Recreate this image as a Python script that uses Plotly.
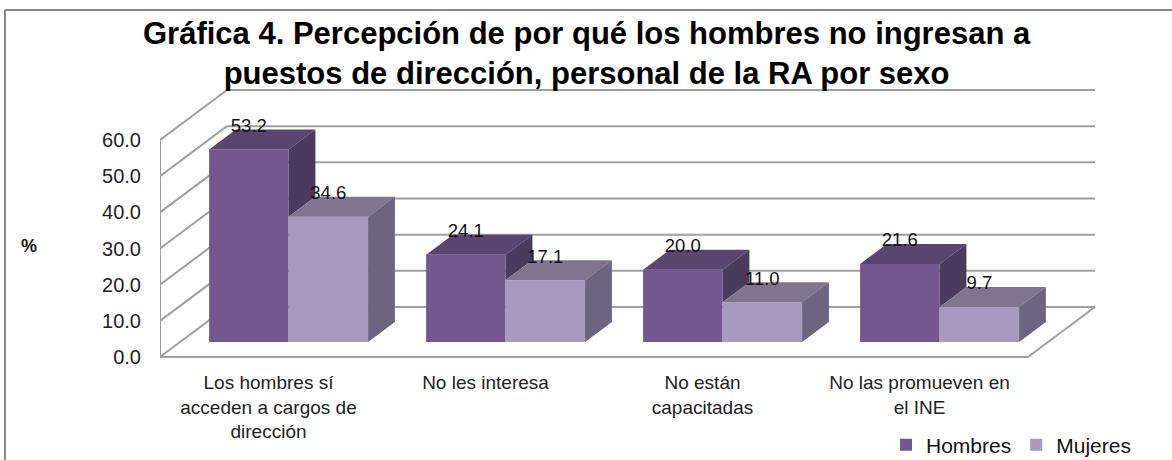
import plotly.graph_objects as go

# ---------------- data ----------------
categories = [
    "Los hombres sí<br>acceden a cargos de<br>dirección",
    "No les interesa",
    "No están<br>capacitadas",
    "No las promueven en<br>el INE",
]
hombres = [53.2, 24.1, 20.0, 21.6]
mujeres = [34.6, 17.1, 11.0, 9.7]
series_names = ["Hombres", "Mujeres"]
y_ticks = [0, 10, 20, 30, 40, 50, 60]
y_tick_text = ["0.0", "10.0", "20.0", "30.0", "40.0", "50.0", "60.0"]
title_text = ("<b>Gráfica 4. Percepción de por qué los hombres no ingresan a</b><br>"
              "<b>puestos de dirección, personal de la RA por sexo</b>")

# ---------------- styling / geometry ----------------
W, H = 1172, 460
ML, MR, MT, MB = 160, 72, 60, 95
PX_X = 217.0            # px per category (front plane)
PX_Y = 217.0 / 60.0     # px per percent point
PW, PH = W - ML - MR, H - MT - MB
X0 = -0.5
X1 = X0 + PW / PX_X
Y0 = -(H - MB - 357) / PX_Y
Y1 = (357 - MT) / PX_Y
XEND = len(categories) - 0.5

DEPTH_X = 67.0 / PX_X   # full floor depth offset (x units)
DEPTH_Y = 50.0 / PX_Y   # full floor depth offset (y units)
FRONT, BACK = 0.3, 0.7  # bar depth placement
BAR_W = 79.5 / PX_X
dX = (BACK - FRONT) * DEPTH_X
dY = (BACK - FRONT) * DEPTH_Y
BASE = FRONT * DEPTH_Y

colors = {
    "Hombres": dict(front="#72588E", top="#5A4570", side="#4A3A5E"),
    "Mujeres": dict(front="#A899BE", top="#807590", side="#6C6480"),
}
GRID = "#A0A0A0"
FONT = "Liberation Sans, Arial, sans-serif"


def px_x(p):
    return (p - ML) / PW


def px_y(p):
    return (H - MB - p) / PH


fig = go.Figure()

# ---------------- walls / gridlines (below traces) ----------------
shapes = []
line = dict(color=GRID, width=2)
for v in y_ticks:
    shapes.append(dict(type="line", xref="x", yref="y", layer="below",
                       x0=X0 + DEPTH_X, y0=v + DEPTH_Y, x1=XEND + DEPTH_X, y1=v + DEPTH_Y, line=line))
    shapes.append(dict(type="line", xref="x", yref="y", layer="below",
                       x0=X0, y0=v, x1=X0 + DEPTH_X, y1=v + DEPTH_Y, line=line))
shapes.append(dict(type="line", xref="x", yref="y", layer="below",
                   x0=X0, y0=y_ticks[0], x1=X0, y1=y_ticks[-1], line=line))
shapes.append(dict(type="line", xref="x", yref="y", layer="below",
                   x0=X0, y0=0, x1=XEND, y1=0, line=line))
shapes.append(dict(type="line", xref="x", yref="y", layer="below",
                   x0=XEND, y0=0, x1=XEND + DEPTH_X, y1=DEPTH_Y, line=line))
# outer chart border (left & top)
shapes.append(dict(type="line", xref="paper", yref="paper", x0=px_x(5), y0=px_y(10),
                   x1=px_x(5), y1=px_y(H + 20), line=dict(color="#8C8C8C", width=2)))
shapes.append(dict(type="line", xref="paper", yref="paper", x0=px_x(5), y0=px_y(10),
                   x1=px_x(W + 20), y1=px_y(10), line=dict(color="#8C8C8C", width=2)))

# ---------------- bars ----------------
series = {"Hombres": hombres, "Mujeres": mujeres}
centers = {}
for s_idx, name in enumerate(series_names):
    xs = [i + FRONT * DEPTH_X + (s_idx - 0.5) * BAR_W for i in range(len(categories))]
    centers[name] = xs
    fig.add_trace(go.Bar(
        x=xs, y=series[name], base=[BASE] * len(xs), width=BAR_W,
        name=name, marker=dict(color=colors[name]["front"], line=dict(width=0)),
        hoverinfo="skip",
    ))

# top and side faces
for name in series_names:
    vals = series[name]
    tx, ty, sx, sy = [], [], [], []
    for i, v in enumerate(vals):
        xl = centers[name][i] - BAR_W / 2
        xr = centers[name][i] + BAR_W / 2
        t = BASE + v
        tx += [xl, xr, xr + dX, xl + dX, xl, None]
        ty += [t, t, t + dY, t + dY, t, None]
        low = BASE
        if name == "Hombres":
            other = mujeres[i]
            if other >= v:
                continue
            low = BASE + other
        sx += [xr, xr, xr + dX, xr + dX, xr, None]
        sy += [low, t, t + dY, low + dY, low, None]
    fig.add_trace(go.Scatter(x=tx, y=ty, mode="lines", fill="toself",
                             fillcolor=colors[name]["top"], line=dict(width=0),
                             showlegend=False, hoverinfo="skip"))
    fig.add_trace(go.Scatter(x=sx, y=sy, mode="lines", fill="toself",
                             fillcolor=colors[name]["side"], line=dict(width=0),
                             showlegend=False, hoverinfo="skip"))

# value labels
lx, ly, lt = [], [], []
for name in series_names:
    for i, v in enumerate(series[name]):
        lx.append(centers[name][i])
        ly.append(BASE + v + dY + 0.6)
        lt.append(f"{v:.1f}")
fig.add_trace(go.Scatter(x=lx, y=ly, text=lt, mode="text", textposition="middle center",
                         textfont=dict(family=FONT, size=18.5, color="#111111"),
                         showlegend=False, hoverinfo="skip", cliponaxis=False))

# title and axis title
fig.add_annotation(text=title_text, xref="paper", yref="paper",
                   x=px_x(587), y=px_y(53), xanchor="center", yanchor="middle",
                   showarrow=False, align="center",
                   font=dict(family=FONT, size=31, color="#000000"))
fig.add_annotation(text="<b>%</b>", xref="paper", yref="paper",
                   x=px_x(29), y=px_y(246), xanchor="center", yanchor="middle",
                   showarrow=False, font=dict(family=FONT, size=18, color="#111111"))

fig.update_layout(
    width=W, height=H,
    margin=dict(l=ML, r=MR, t=MT, b=MB, autoexpand=False),
    paper_bgcolor="white", plot_bgcolor="white",
    barmode="overlay",
    shapes=shapes,
    xaxis=dict(range=[X0, X1], tickvals=list(range(len(categories))), ticktext=categories,
               showgrid=False, zeroline=False, showline=False, ticks="", automargin=False,
               tickfont=dict(family=FONT, size=19, color="#222222"), ticklabelstandoff=4,
               fixedrange=True),
    yaxis=dict(range=[Y0, Y1], tickvals=y_ticks, ticktext=y_tick_text,
               showgrid=False, zeroline=False, showline=False, ticks="", automargin=False,
               tickfont=dict(family=FONT, size=20, color="#222222"), ticklabelstandoff=18,
               fixedrange=True),
    legend=dict(orientation="h", xref="container", yref="paper",
                x=886 / W, xanchor="left", y=px_y(445), yanchor="middle",
                font=dict(family=FONT, size=21, color="#111111"),
                bgcolor="rgba(0,0,0,0)", itemwidth=30, traceorder="normal"),
    showlegend=True,
)

fig.write_html("out.html", config={"displayModeBar": False},
               post_script="document.body.style.margin='0px';")
